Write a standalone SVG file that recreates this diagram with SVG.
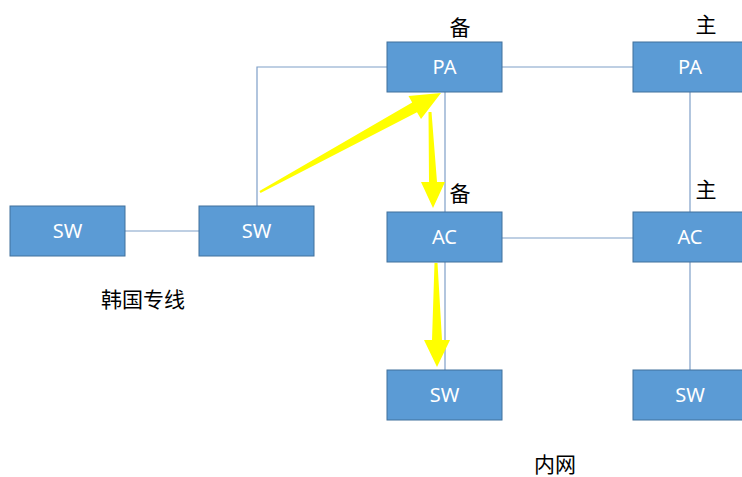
<svg xmlns="http://www.w3.org/2000/svg" width="742" height="477" viewBox="0 0 742 477">
<style>
.box{fill:#5b9bd5;stroke:#41719c;stroke-width:1}
.bt{font-family:"Noto Sans","Open Sans","Liberation Sans",sans-serif;font-size:20px;fill:#ffffff;text-anchor:middle}
.lbl{font-family:"Noto Sans CJK SC","Noto Sans",sans-serif;font-size:21px;fill:#000000;text-anchor:middle}
.ln{fill:none;stroke:#7f9fc8;stroke-width:1.2}
.ya{fill:#ffff00;stroke:none}
</style>
<rect width="742" height="477" fill="#ffffff"/>
<g id="connectors">
<line class="ln" x1="125" y1="231" x2="199" y2="231"/>
<polyline class="ln" points="257,206 257,67 387,67"/>
<line class="ln" x1="502" y1="67" x2="633" y2="67"/>
<line class="ln" x1="445" y1="92" x2="445" y2="212"/>
<line class="ln" x1="502" y1="238" x2="633" y2="238"/>
<line class="ln" x1="445" y1="262" x2="445" y2="370"/>
<line class="ln" x1="690" y1="92" x2="690" y2="212"/>
<line class="ln" x1="690" y1="262" x2="690" y2="370"/>
</g>
<g id="arrows">
<polygon class="ya" points="259.5,191.1 412.2,102.5 408.5,96 441,93 421,119 417,112.3 260.5,192.9"/>
<polygon class="ya" points="428.5,112 431.5,112 437,182 445,182 433,208 421,182 429,182"/>
<polygon class="ya" points="434.5,263 437.5,263 442,340 450,340 437,367 424,340 432,340"/>
</g>
<g id="sw1"><rect class="box" x="10" y="206" width="115" height="50"/><text class="bt" x="67.5" y="238">SW</text></g>
<g id="sw2"><rect class="box" x="199" y="206" width="115" height="50"/><text class="bt" x="256.5" y="238">SW</text></g>
<g id="pa-backup"><rect class="box" x="387" y="42" width="115" height="50"/><text class="bt" x="444.5" y="74">PA</text></g>
<g id="pa-main"><rect class="box" x="633" y="42" width="115" height="50"/><text class="bt" x="690" y="74">PA</text></g>
<g id="ac-backup"><rect class="box" x="387" y="212" width="115" height="50"/><text class="bt" x="444.5" y="244">AC</text></g>
<g id="ac-main"><rect class="box" x="633" y="212" width="115" height="50"/><text class="bt" x="690" y="244">AC</text></g>
<g id="sw3"><rect class="box" x="387" y="370" width="115" height="50"/><text class="bt" x="444.5" y="402">SW</text></g>
<g id="sw4"><rect class="box" x="633" y="370" width="115" height="50"/><text class="bt" x="690" y="402">SW</text></g>
<g id="labels">
<text class="lbl" x="460" y="35">备</text>
<text class="lbl" x="706" y="32">主</text>
<text class="lbl" x="460" y="201">备</text>
<text class="lbl" x="706" y="197">主</text>
<text class="lbl" x="143" y="307">韩国专线</text>
<text class="lbl" x="555" y="472">内网</text>
</g>
</svg>
